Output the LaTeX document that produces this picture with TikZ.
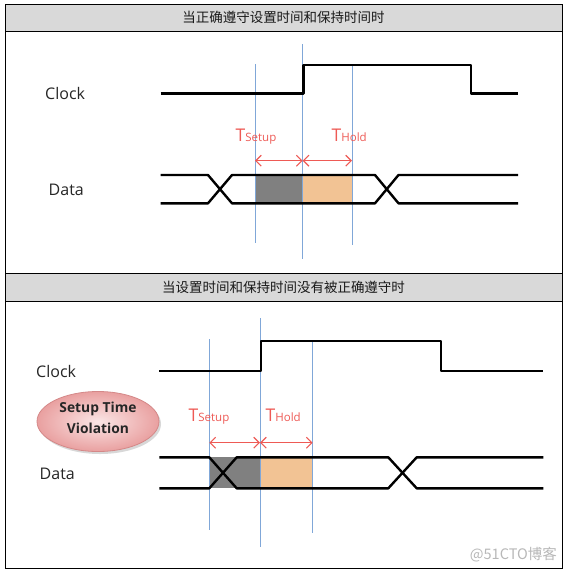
\documentclass[tikz,border=0pt]{standalone}
\usepackage{fontspec}
\setmainfont{Open Sans}
\newfontfamily\cjkfont{Noto Sans CJK SC}
\usetikzlibrary{arrows.meta,shapes.geometric,shadows}
\definecolor{hdrgray}{HTML}{D9D9D9}
\definecolor{vblue}{HTML}{80A7D8}
\definecolor{tred}{HTML}{EE5A55}
\definecolor{peach}{HTML}{F2C394}
\definecolor{dgray}{HTML}{808080}
\definecolor{pinkin}{HTML}{FBE6E6}
\definecolor{pinkout}{HTML}{E9A0A0}
\definecolor{pinkedge}{HTML}{D48888}
\begin{document}
\begin{tikzpicture}[x=1pt,y=-1pt,
  frame/.style={draw=black,line width=1pt},
  hdr/.style={fill=hdrgray,draw=black,line width=1pt},
  hdrtext/.style={font=\cjkfont\fontsize{13.5}{15}\selectfont,text=black!90,inner sep=0pt},
  wave/.style={draw=black,line width=2.4pt,line join=round},
  guide/.style={draw=vblue,line width=1pt},
  dimarrow/.style={draw=tred,line width=1.1pt,{Straight Barb[length=5.5pt,width=11pt]}-{Straight Barb[length=5.5pt,width=11pt]}},
  tlab/.style={text=tred,inner sep=0pt,anchor=base west,font=\fontsize{17.5}{18}\selectfont},
  sig/.style={font=\fontsize{16}{18}\selectfont,text=black!85,inner sep=0pt},
  viol/.style={ellipse,minimum width=122pt,minimum height=60pt,inner sep=0pt,
     draw=pinkedge,line width=0.8pt,shading=radial,inner color=pinkin,outer color=pinkout,
     drop shadow={shadow xshift=2pt,shadow yshift=-2.5pt,fill=black!30}},
  violtext/.style={inner sep=0pt,align=center,font=\bfseries\fontsize{13.8}{21}\selectfont,text=black!85},
  wm/.style={font=\cjkfont\fontsize{14.5}{16}\selectfont,text=black!28,inner sep=0pt}
]
\useasboundingbox (0,0) rectangle (567,574);
\fill[white] (0,0) rectangle (567,574);
% frame and headers
\draw[hdr] (5,4) rectangle (562,31);
\draw[hdr] (5,273) rectangle (562,301.5);
\draw[frame] (5,4) rectangle (562,568);
\node[hdrtext] (h1) at (283.5,17.5) {当正确遵守设置时间和保持时间时};
\node[hdrtext] (h2) at (283.5,287) {当设置时间和保持时间没有被正确遵守时};

% ================= top panel =================
\node[sig,anchor=west] (clk1) at (45,93) {Clock};
\node[sig,anchor=west] (dat1) at (48.5,189.5) {Data};
\fill[dgray] (255,175) rectangle (302.7,203.3);
\fill[peach] (302.7,175) rectangle (352,203.3);
\draw[guide] (255,64) -- (255,243);
\draw[guide] (302.7,44) -- (302.7,259);
\draw[guide] (352,66) -- (352,245);
\draw[wave] (160.5,93.3) -- (303.3,93.3) -- (303.3,65) -- (470.7,65) -- (470.7,93.3) -- (518,93.3);
\draw[wave] (160.5,175) -- (208,175) -- (232,203.3) -- (375,203.3) -- (398.5,175) -- (518,175);
\draw[wave] (160.5,203.3) -- (208,203.3) -- (232,175) -- (375,175) -- (398.5,203.3) -- (518,203.3);
\coordinate (a1) at (255,160.7);
\coordinate (a2) at (302.7,160.7);
\coordinate (a3) at (352,160.7);
\draw[dimarrow] (a1) -- (a2);
\draw[dimarrow] (a2) -- (a3);
\node[tlab] (ts1) at (235.5,141.7) {T{\fontsize{11.5}{12}\selectfont Setup}};
\node[tlab] (th1) at (331.5,141.7) {T{\fontsize{11.5}{12}\selectfont Hold}};

% ================= bottom panel =================
\node[sig,anchor=west] (clk2) at (36,371) {Clock};
\node[sig,anchor=west] (dat2) at (39.5,474) {Data};
\node[viol] (sv) at (98,421.5) {};
\node[violtext] (svt) at (98,417.5) {Setup Time\\Violation};
\fill[dgray] (209.3,457.3) rectangle (260,488.3);
\fill[peach] (260,457.3) rectangle (312.7,488.3);
\draw[guide] (209.3,339.3) -- (209.3,530);
\draw[guide] (260,318.3) -- (260,547.3);
\draw[guide] (312.7,341.7) -- (312.7,533);
\draw[wave] (159.3,371) -- (261,371) -- (261,340.7) -- (441,340.7) -- (441,371) -- (543.3,371);
\draw[wave] (159.3,457.3) -- (209.3,457.3) -- (236.7,488.3) -- (388.3,488.3) -- (416.7,457.3) -- (543.3,457.3);
\draw[wave] (159.3,488.3) -- (209.3,488.3) -- (236.7,457.3) -- (388.3,457.3) -- (416.7,488.3) -- (543.3,488.3);
\coordinate (b1) at (209.3,442.7);
\coordinate (b2) at (260,442.7);
\coordinate (b3) at (312.7,442.7);
\draw[dimarrow] (b1) -- (b2);
\draw[dimarrow] (b2) -- (b3);
\node[tlab] (ts2) at (188.5,421.7) {T{\fontsize{11.5}{12}\selectfont Setup}};
\node[tlab] (th2) at (265.5,421.7) {T{\fontsize{11.5}{12}\selectfont Hold}};

\node[wm,anchor=east] (wmk) at (557,555) {@51CTO博客};
\end{tikzpicture}
\end{document}
